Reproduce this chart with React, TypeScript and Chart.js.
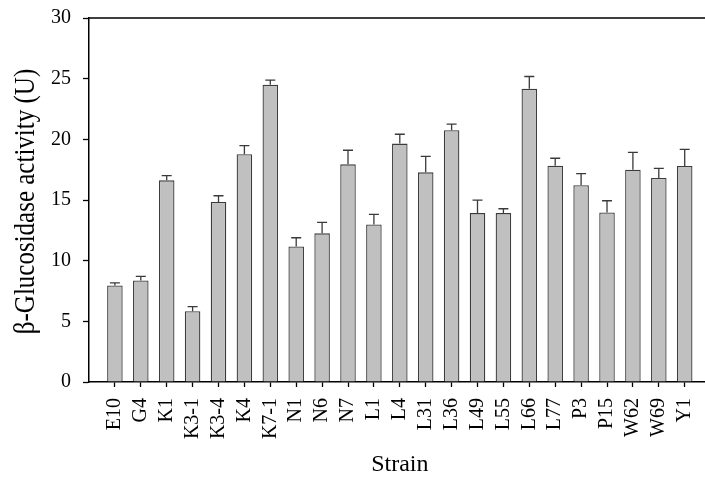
import React, { useEffect, useRef } from "react";
import { Chart, registerables } from "chart.js";

Chart.register(...registerables);

const strains = ["E10", "G4", "K1", "K3-1", "K3-4", "K4", "K7-1", "N1", "N6", "N7", "L1", "L4", "L31", "L36", "L49", "L55", "L66", "L77", "P3", "P15", "W62", "W69", "Y1"];
const activity = [7.95, 8.37, 16.62, 5.83, 14.83, 18.77, 24.49, 11.17, 12.25, 17.94, 12.99, 19.65, 17.28, 20.75, 13.92, 13.92, 24.16, 17.83, 16.21, 13.98, 17.5, 16.81, 17.8];
const errors = [0.22, 0.33, 0.39, 0.39, 0.52, 0.71, 0.39, 0.72, 0.9, 1.16, 0.83, 0.77, 1.32, 0.5, 1.07, 0.36, 1.02, 0.61, 0.96, 0.96, 1.43, 0.8, 1.38];
const yTicks = [0, 5, 10, 15, 20, 25, 30];
const yTitle = "β-Glucosidase activity (U)";
const xTitle = "Strain";

const FONT = "'Liberation Serif', 'Times New Roman', serif";

const frameAndErrors = {
  id: "frameAndErrors",
  afterDatasetsDraw(chart: any) {
    const { ctx, chartArea } = chart;
    const y = chart.scales.y;
    const meta = chart.getDatasetMeta(0);
    ctx.save();
    ctx.strokeStyle = "#3a3a3a";
    ctx.lineWidth = 1.3;
    meta.data.forEach((bar: any, i: number) => {
      const top = y.getPixelForValue(activity[i]);
      const hi = y.getPixelForValue(activity[i] + errors[i]);
      const cx = bar.x;
      ctx.beginPath();
      ctx.moveTo(cx, top);
      ctx.lineTo(cx, hi);
      ctx.moveTo(cx - 5, hi);
      ctx.lineTo(cx + 5, hi);
      ctx.stroke();
    });
    ctx.strokeStyle = "#000";
    ctx.lineWidth = 1.5;
    ctx.beginPath();
    ctx.moveTo(chartArea.left, chartArea.top);
    ctx.lineTo(chartArea.right, chartArea.top);
    ctx.lineTo(chartArea.right, chartArea.bottom);
    ctx.stroke();
    // y-axis title (slightly stretched like the reference)
    ctx.fillStyle = "#000";
    ctx.font = `25px ${FONT}`;
    ctx.textAlign = "center";
    ctx.textBaseline = "alphabetic";
    ctx.translate(33.5, (chartArea.top + chartArea.bottom) / 2 + 1.5);
    ctx.rotate(-Math.PI / 2);
    ctx.scale(1, 1.2);
    ctx.fillText(yTitle, 0, 0);
    ctx.restore();
  },
};

export default function App() {
  const ref = useRef<HTMLCanvasElement>(null);
  useEffect(() => {
    document.body.style.margin = "0";
    document.body.style.overflow = "hidden";
    const chart = new Chart(ref.current!, {
      type: "bar",
      data: {
        datasets: [
          {
            data: activity.map((v, i) => ({ x: i, y: v })),
            backgroundColor: "#c0c0c0",
            borderColor: "#3c3c3c",
            borderWidth: 1.3,
            barPercentage: 0.6,
            categoryPercentage: 1,
          },
        ],
      },
      options: {
        responsive: false,
        animation: false,
        layout: { padding: { top: 18, right: 7, left: 0, bottom: 0 } },
        plugins: { legend: { display: false }, tooltip: { enabled: false } },
        scales: {
          x: {
            type: "linear",
            offset: false,
            min: -1,
            max: strains.length,
            afterFit: (s: any) => { s.height = 95; },
            afterBuildTicks: (s: any) => {
              s.ticks = strains.map((_, i) => ({ value: i }));
            },
            ticks: {
              autoSkip: false,
              minRotation: 90,
              maxRotation: 90,
              padding: 11,
              color: "#000",
              font: { family: FONT, size: 20 },
              callback: (v: any) => strains[v] ?? "",
            },
            grid: { offset: false, drawOnChartArea: false, tickLength: 5, color: "#000", tickWidth: 1.3 },
            border: { color: "#000", width: 1.5 },
            title: {
              display: true,
              text: xTitle,
              color: "#000",
              font: { family: FONT, size: 24, lineHeight: 1 },
              padding: { top: 0, bottom: 0 },
            },
          },
          y: {
            min: 0,
            max: 30,
            afterFit: (s: any) => { s.width = 89; s.paddingTop = 0; s.paddingBottom = 0; },
            afterBuildTicks: (s: any) => {
              s.ticks = yTicks.map((v) => ({ value: v }));
            },
            ticks: {
              padding: 12,
              color: "#000",
              font: { family: FONT, size: 20, lineHeight: 0.6 },
            },
            grid: { drawOnChartArea: false, tickLength: 6, color: "#000", tickWidth: 1.3 },
            border: { color: "#000", width: 1.5 },
            title: { display: false },
          },
        },
      },
      plugins: [frameAndErrors],
    });
    return () => chart.destroy();
  }, []);
  return (
    <div style={{ width: 705, height: 477, overflow: "hidden", position: "relative" }}>
      <canvas ref={ref} width={720} height={477} style={{ display: "block" }} />
    </div>
  );
}
